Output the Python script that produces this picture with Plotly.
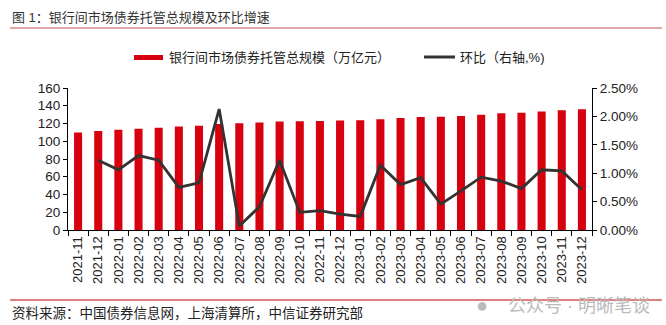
import plotly.graph_objects as go

months = ["2021-11", "2021-12", "2022-01", "2022-02", "2022-03", "2022-04", "2022-05",
          "2022-06", "2022-07", "2022-08", "2022-09", "2022-10", "2022-11", "2022-12",
          "2023-01", "2023-02", "2023-03", "2023-04", "2023-05", "2023-06", "2023-07",
          "2023-08", "2023-09", "2023-10", "2023-11", "2023-12"]
scale_trn = [110.0, 111.5, 113.0, 114.2, 115.3, 116.5, 117.5,
             119.4, 120.2, 121.0, 122.2, 122.6, 122.8, 123.5,
             123.6, 124.9, 126.1, 127.3, 127.7, 128.5, 130.0,
             131.5, 132.0, 133.5, 135.0, 136.0]
mom_pct = [None, 1.23, 1.06, 1.31, 1.23, 0.75, 0.83,
           2.13, 0.07, 0.41, 1.23, 0.31, 0.34, 0.28,
           0.24, 1.14, 0.80, 0.92, 0.455, 0.69, 0.93,
           0.86, 0.73, 1.06, 1.04, 0.71]
left_ticks = [0, 20, 40, 60, 80, 100, 120, 140, 160]
right_ticks = [0, 0.5, 1.0, 1.5, 2.0, 2.5]
right_labels = ["0.00%", "0.50%", "1.00%", "1.50%", "2.00%", "2.50%"]

RED = "#d7000f"
LINE = "#333333"
FONT = "Liberation Sans, Noto Sans CJK SC, sans-serif"

fig = go.Figure()
fig.add_trace(go.Bar(x=months, y=scale_trn, name="银行间市场债券托管总规模（万亿元）",
                     marker=dict(color=RED, line=dict(width=0)), width=0.4,
                     showlegend=False))
fig.add_trace(go.Scatter(x=months, y=mom_pct, name="环比（右轴,%)", yaxis="y2",
                         mode="lines", line=dict(color=LINE, width=2.8),
                         showlegend=False))

# plot area in px: x 68..592, y 88..230
L, R, T, B = 68, 592, 88, 230
W, H = R - L, B - T

def px(x):
    return (x - L) / W

def py(y):
    return (B - y) / H

fig.update_layout(
    width=666, height=325,
    margin=dict(l=L, r=666 - R, t=T, b=325 - B),
    paper_bgcolor="white", plot_bgcolor="white",
    font=dict(family=FONT, color="#222", size=12),
    bargap=0.6,
    xaxis=dict(type="category", showline=True, linecolor="#000", linewidth=1.2,
               ticks="outside", ticklen=5, tickcolor="#000", tickson="boundaries",
               tickangle=-90, tickfont=dict(size=13, color="#222"), showgrid=False,
               range=[-0.5, len(months) - 0.5]),
    yaxis=dict(range=[0, 160], tickvals=left_ticks, showline=True, linecolor="#000",
               linewidth=1.2, ticks="outside", ticklen=4, tickcolor="#000",
               showgrid=False, zeroline=False, tickfont=dict(size=13.5, color="#222")),
    yaxis2=dict(range=[0, 2.5], tickvals=right_ticks, ticktext=right_labels,
                overlaying="y", side="right", showline=True, linecolor="#000",
                linewidth=1.2, ticks="outside", ticklen=4, tickcolor="#000",
                showgrid=False, zeroline=False, tickfont=dict(size=13.5, color="#222")),
)

shapes = [
    # title underline
    dict(type="line", xref="paper", yref="paper", x0=px(10), x1=px(662), y0=py(28), y1=py(28),
         line=dict(color="#c0504d", width=1)),
    # bottom line
    dict(type="line", xref="paper", yref="paper", x0=px(10), x1=px(662), y0=py(300), y1=py(300),
         line=dict(color="#c00000", width=1)),
    # legend swatches
    dict(type="rect", xref="paper", yref="paper", x0=px(134), x1=px(163), y0=py(60), y1=py(55),
         fillcolor=RED, line=dict(width=0)),
    dict(type="line", xref="paper", yref="paper", x0=px(424), x1=px(455), y0=py(57), y1=py(57),
         line=dict(color=LINE, width=3)),
]

annotations = [
    dict(text="图 1：银行间市场债券托管总规模及环比增速", xref="paper", yref="paper",
         x=px(10), y=py(17), xanchor="left", yanchor="middle", showarrow=False,
         font=dict(size=13, color="#333")),
    dict(text="银行间市场债券托管总规模（万亿元）", xref="paper", yref="paper",
         x=px(167), y=py(57), xanchor="left", yanchor="middle", showarrow=False,
         font=dict(size=13, color="#222")),
    dict(text="环比（右轴,%)", xref="paper", yref="paper",
         x=px(458), y=py(57), xanchor="left", yanchor="middle", showarrow=False,
         font=dict(size=13, color="#222")),
    dict(text="资料来源：中国债券信息网，上海清算所，中信证券研究部", xref="paper", yref="paper",
         x=px(10), y=py(313), xanchor="left", yanchor="middle", showarrow=False,
         font=dict(size=13.5, color="#222")),
    dict(text="●", xref="paper", yref="paper",
         x=px(482), y=py(305), xanchor="center", yanchor="middle", showarrow=False,
         font=dict(size=20, color="#bbbbbb")),
    dict(text="公众号 · 明晰笔谈", xref="paper", yref="paper",
         x=px(652), y=py(306), xanchor="right", yanchor="middle", showarrow=False,
         font=dict(size=18, color="#bbbbbb")),
]

fig.update_layout(shapes=shapes, annotations=annotations)
fig.write_html("out.html")
